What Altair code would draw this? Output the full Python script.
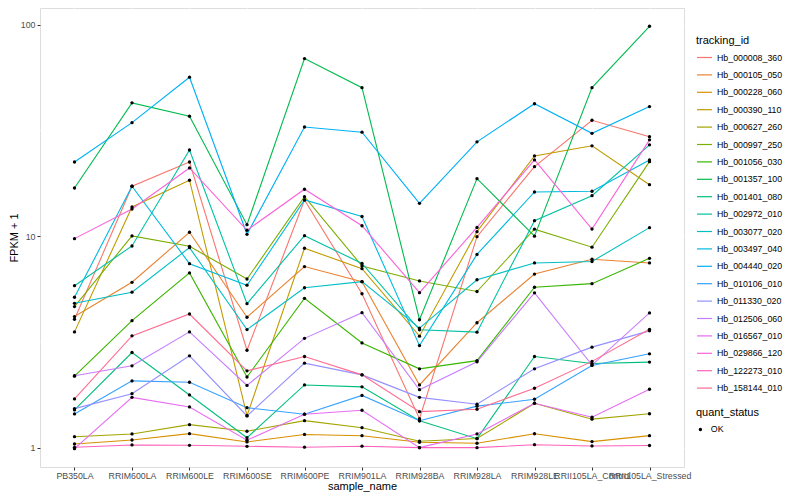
import altair as alt
import pandas as pd

samples = ["PB350LA", "RRIM600LA", "RRIM600LE", "RRIM600SE", "RRIM600PE", "RRIM901LA",
           "RRIM928BA", "RRIM928LA", "RRIM928LE", "RRII105LA_Control", "RRII105LA_Stressed"]

tracking_ids = ["Hb_000008_360", "Hb_000105_050", "Hb_000228_060", "Hb_000390_110",
                "Hb_000627_260", "Hb_000997_250", "Hb_001056_030", "Hb_001357_100",
                "Hb_001401_080", "Hb_002972_010", "Hb_003077_020", "Hb_003497_040",
                "Hb_004440_020", "Hb_010106_010", "Hb_011330_020", "Hb_012506_060",
                "Hb_016567_010", "Hb_029866_120", "Hb_122273_010", "Hb_158144_010"]

palette = ["#F8766D", "#EA8331", "#D89000", "#C09B00", "#A3A500", "#7CAE00", "#39B600",
           "#00BB4E", "#00BF7D", "#00C1A3", "#00BFC4", "#00BAE0", "#00B0F6", "#35A2FF",
           "#9590FF", "#C77CFF", "#E76BF3", "#FA62DB", "#FF62BC", "#FF6C91"]

# FPKM + 1 per sample (order of `samples`)
Hb_000008_360 = [4.05, 17.25, 22.47, 2.89, 14.86, 5.35, 1.37, 9.96, 21.36, 35.4, 29.6]
Hb_000105_050 = [4.17, 6.06, 10.45, 4.14, 7.19, 6.10, 1.98, 3.90, 6.63, 7.79, 7.48]
Hb_000228_060 = [1.041, 1.087, 1.165, 1.064, 1.155, 1.139, 1.061, 1.049, 1.164, 1.068, 1.140]
Hb_000390_110 = [3.53, 13.77, 18.42, 1.417, 8.78, 7.03, 3.37, 10.52, 24.0, 26.8, 17.55]
Hb_000627_260 = [1.127, 1.161, 1.285, 1.196, 1.342, 1.243, 1.073, 1.105, 1.622, 1.364, 1.447]
Hb_000997_250 = [4.65, 10.04, 8.97, 6.28, 15.40, 7.24, 6.15, 5.48, 10.81, 8.88, 22.55]
Hb_001056_030 = [2.18, 3.99, 6.71, 2.16, 5.09, 3.13, 2.36, 2.58, 5.74, 5.97, 7.87]
Hb_001357_100 = [16.93, 42.8, 37.0, 11.35, 69.3, 50.5, 4.03, 18.74, 10.02, 50.5, 98.6]
Hb_001401_080 = [1.508, 2.82, 1.776, 1.115, 1.98, 1.94, 1.34, 1.103, 2.70, 2.50, 2.54]
Hb_002972_010 = [5.84, 9.00, 25.6, 4.80, 10.07, 7.44, 3.61, 3.52, 11.86, 15.57, 27.1]
Hb_003077_020 = [4.82, 5.44, 8.84, 3.62, 5.71, 6.10, 3.68, 6.23, 7.48, 7.60, 10.99]
Hb_003497_040 = [5.15, 17.25, 7.42, 5.87, 14.86, 12.41, 3.04, 8.21, 16.21, 16.34, 22.98]
Hb_004440_020 = [22.47, 34.5, 56.6, 10.22, 32.9, 31.1, 14.33, 28.0, 42.4, 30.7, 41.1]
Hb_010106_010 = [1.444, 2.07, 2.04, 1.546, 1.44, 1.766, 1.34, 1.572, 1.694, 2.45, 2.78]
Hb_011330_020 = [1.53, 1.80, 2.72, 1.413, 2.51, 2.21, 1.73, 1.605, 2.36, 2.99, 3.57]
Hb_012506_060 = [2.19, 2.44, 3.53, 1.97, 3.29, 4.35, 1.88, 2.55, 5.40, 2.46, 4.34]
Hb_016567_010 = [0.989, 1.73, 1.558, 1.084, 1.44, 1.503, 1.0, 1.161, 1.622, 1.393, 1.889]
Hb_029866_120 = [9.75, 13.47, 21.06, 10.68, 16.70, 11.22, 5.41, 11.01, 22.98, 10.83, 28.6]
Hb_122273_010 = [1.004, 1.03, 1.026, 1.015, 1.005, 1.016, 1.0, 1.0, 1.033, 1.019, 1.024]
Hb_158144_010 = [1.70, 3.38, 4.29, 2.31, 2.70, 2.21, 1.48, 1.52, 1.91, 2.56, 3.63]

series = [Hb_000008_360, Hb_000105_050, Hb_000228_060, Hb_000390_110, Hb_000627_260,
          Hb_000997_250, Hb_001056_030, Hb_001357_100, Hb_001401_080, Hb_002972_010,
          Hb_003077_020, Hb_003497_040, Hb_004440_020, Hb_010106_010, Hb_011330_020,
          Hb_012506_060, Hb_016567_010, Hb_029866_120, Hb_122273_010, Hb_158144_010]

y_breaks = [1, 10, 100]
y_minor = [3.162, 31.62]

rows = []
for tid, vals in zip(tracking_ids, series):
    for s, v in zip(samples, vals):
        rows.append({"sample_name": s, "tracking_id": tid, "FPKM": v, "quant_status": "OK"})
df = pd.DataFrame(rows)
minor_df = pd.DataFrame({"FPKM": y_minor})

FONT = "Liberation Sans"

x_enc = alt.X("sample_name:N", sort=samples,
              scale=alt.Scale(type="point", padding=0.6),
              axis=alt.Axis(title="sample_name", labelAngle=0, labelOverlap=False,
                            labelBound=False, grid=True, gridColor="white", gridWidth=1.1,
                            domain=False, tickColor="#333333", tickSize=3, tickWidth=1,
                            labelColor="#4D4D4D", labelFontSize=8.8, labelFont=FONT,
                            labelPadding=1.5, titleFont=FONT, titleFontSize=11,
                            titleColor="black", titleFontWeight="normal", titlePadding=0))

y_scale = alt.Scale(type="log", domain=[0.81, 120.3], nice=False)
y_enc = alt.Y("FPKM:Q", scale=y_scale,
              axis=alt.Axis(title="FPKM + 1", values=y_breaks, format="d", grid=True,
                            gridColor="white", gridWidth=1.1, domain=False,
                            tickColor="#333333", tickSize=3, tickWidth=1,
                            labelColor="#4D4D4D", labelFontSize=8.8, labelFont=FONT,
                            labelPadding=2, titleFont=FONT, titleFontSize=11,
                            titleColor="black", titleFontWeight="normal", titlePadding=1))

minor = alt.Chart(minor_df).mark_rule(color="white", strokeWidth=0.55).encode(
    y=alt.Y("FPKM:Q", scale=y_scale, title="FPKM + 1")
)

lines = alt.Chart(df).mark_line(strokeWidth=1.1).encode(
    x=x_enc,
    y=y_enc,
    color=alt.Color("tracking_id:N",
                    scale=alt.Scale(domain=tracking_ids, range=palette),
                    legend=alt.Legend(title="tracking_id", orient="none", legendX=656,
                                      legendY=27, symbolType="stroke", symbolSize=225,
                                      symbolStrokeWidth=1.2, rowPadding=3.4,
                                      labelFont=FONT, labelFontSize=8.8, labelColor="black",
                                      titleFont=FONT, titleFontSize=11, titleColor="black",
                                      titleFontWeight="normal", titlePadding=3,
                                      labelOffset=4)),
    detail="tracking_id:N",
)

points = alt.Chart(df).mark_point(filled=True, size=11, opacity=1, color="black").encode(
    x=alt.X("sample_name:N", sort=samples),
    y=alt.Y("FPKM:Q"),
    shape=alt.Shape("quant_status:N",
                    scale=alt.Scale(domain=["OK"], range=["circle"]),
                    legend=alt.Legend(title="quant_status", orient="none", legendX=656,
                                      legendY=399, symbolFillColor="black",
                                      symbolStrokeColor="black", symbolSize=12,
                                      labelFont=FONT, labelFontSize=8.8, labelColor="black",
                                      titleFont=FONT, titleFontSize=11, titleColor="black",
                                      titleFontWeight="normal", titlePadding=7,
                                      labelOffset=6)),
)

chart = alt.layer(minor, lines, points).properties(
    width=644, height=459,
    autosize=alt.AutoSizeParams(type="none"),
    padding={"left": 32, "top": 0, "right": 108, "bottom": 25},
).configure_view(fill="#EBEBEB", stroke=None).configure(background="white")

chart.save("out.html", embed_options={"renderer": "svg", "actions": False})
